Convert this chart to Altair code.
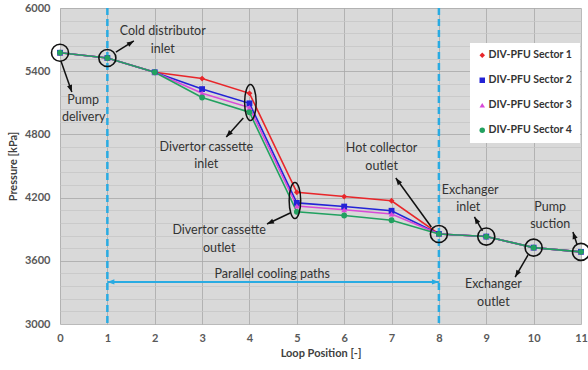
import math
import altair as alt
import pandas as pd

# ---------------- data ----------------
positions = [0, 1, 2, 3, 4, 5, 6, 7, 8, 9, 10, 11]
series_names = ["DIV-PFU Sector 1", "DIV-PFU Sector 2", "DIV-PFU Sector 3", "DIV-PFU Sector 4"]
sector1 = [5575, 5525, 5390, 5330, 5190, 4250, 4210, 4170, 3855, 3830, 3725, 3685]
sector2 = [5575, 5525, 5390, 5230, 5095, 4150, 4115, 4075, 3855, 3830, 3725, 3685]
sector3 = [5575, 5525, 5390, 5190, 5055, 4120, 4085, 4045, 3855, 3830, 3725, 3685]
sector4 = [5575, 5525, 5390, 5150, 5010, 4065, 4030, 3985, 3855, 3830, 3725, 3685]
series_colors = ["#e8262a", "#2323d6", "#d84ad8", "#22a160"]
series_shapes = ["diamond", "square", "triangle-up", "circle"]

x_ticks = list(range(0, 12))
y_grid = list(range(3000, 6001, 120))

# annotation circles / ellipses
circle_x = [0, 1, 8, 9, 10, 11]
circle_y = [5575, 5525, 3855, 3830, 3725, 3685]
ellipse_x = [4.02, 4.96]
ellipse_y = [5103, 4172]

# annotation labels
label_text = ["Pump", "delivery", "Cold distributor", "inlet",
              "Divertor cassette", "inlet", "Divertor cassette", "outlet",
              "Hot collector", "outlet", "Exchanger", "inlet",
              "Exchanger", "outlet", "Pump", "suction"]
label_x = [0.49, 0.5, 2.17, 2.17, 3.09, 3.09, 3.36, 3.36,
           6.79, 6.79, 8.66, 8.62, 9.15, 9.15, 10.35, 10.35]
label_y = [5127, 4965, 5782, 5611, 4680, 4519, 3892, 3721,
           4671, 4500, 4272, 4111, 3380, 3209, 4111, 3949]

# black arrows (tail -> head)
arrow_x0 = [0.02, 1.18, 3.87, 4.86, 7.84, 8.92, 9.88, 10.92]
arrow_y0 = [5497, 5582, 4956, 4054, 3921, 3883, 3655, 3750]
arrow_x1 = [0.25, 1.56, 3.51, 4.37, 7.09, 8.75, 9.61, 10.83]
arrow_y1 = [5202, 5687, 4775, 3949, 4386, 4016, 3446, 3873]

# parallel cooling paths
dashed_x = [1, 8]
cooling_x0, cooling_x1, cooling_y = 1, 8, 3399
cooling_label = "Parallel cooling paths"
cooling_label_x, cooling_label_y = 4.48, 3475

W, H = 521, 316
XD = [0, 11]
YD = [3000, 6000]
FONT = "Lato"
BLUE = "#29abe2"

# ---------------- frames ----------------
rows = []
for name, vals in zip(series_names, [sector1, sector2, sector3, sector4]):
    for p, v in zip(positions, vals):
        rows.append({"pos": p, "p": v, "series": name})
df = pd.DataFrame(rows)

def ang(x0, y0, x1, y1):
    dx = (x1 - x0) * W / (XD[1] - XD[0])
    dy = -(y1 - y0) * H / (YD[1] - YD[0])
    return math.degrees(math.atan2(dx, -dy)) % 360

arrows = pd.DataFrame({"x0": arrow_x0, "y0": arrow_y0, "x1": arrow_x1, "y1": arrow_y1})
arrows["angle"] = [ang(a, b, c, d) for a, b, c, d in zip(arrow_x0, arrow_y0, arrow_x1, arrow_y1)]

blue_heads = pd.DataFrame({"x": [cooling_x0, cooling_x1], "y": [cooling_y, cooling_y],
                           "angle": [ang(cooling_x1, cooling_y, cooling_x0, cooling_y),
                                     ang(cooling_x0, cooling_y, cooling_x1, cooling_y)]})

xs = alt.Scale(domain=XD, nice=False, zero=False)
ys = alt.Scale(domain=YD, nice=False, zero=False)

HEAD = "M0,0L-0.75,2L0.75,2Z"
ELLIPSE = "M0,-1A0.32,1,0,1,1,0,1A0.32,1,0,1,1,0,-1Z"

x_axis = alt.Axis(values=x_ticks, title="Loop Position [-]", labelFlush=False,
                  ticks=False, domain=False, grid=True, gridColor="#a8a8a8", gridWidth=0.8,
                  labelFontSize=11, labelFontWeight="bold", labelColor="#595959",
                  labelPadding=8, titleFontSize=11, titleFontWeight="bold",
                  titleColor="#404040", titlePadding=4)
y_axis = alt.Axis(values=y_grid, format="d", title="Pressure [kPa]",
                  labelExpr="datum.value % 600 == 0 ? datum.label : ''",
                  labelOverlap=False, labelFlush=False,
                  ticks=False, domain=False, grid=True,
                  gridColor={"condition": {"test": "datum.value % 600 == 0", "value": "#a8a8a8"},
                             "value": "#c6c6c6"},
                  gridWidth=0.8,
                  labelFontSize=11, labelFontWeight="bold", labelColor="#595959",
                  labelPadding=10, titleFontSize=11, titleFontWeight="bold",
                  titleColor="#404040", titlePadding=6)


def X(field):
    return alt.X(field, type="quantitative", scale=xs, axis=x_axis)


def Y(field):
    return alt.Y(field, type="quantitative", scale=ys, axis=y_axis)


legend = alt.Legend(title=None, orient="none", legendX=410, legendY=35,
                    fillColor="white", padding=7, rowPadding=14,
                    symbolSize=30, labelFontSize=10.5, labelFontWeight="bold",
                    labelColor="#333333", labelOffset=1, labelFont=FONT)

line_layers = [
    alt.Chart(df[df["series"] == name]).mark_line(strokeWidth=1.6, color=col).encode(
        x=X("pos"), y=Y("p"))
    for name, col in zip(series_names, series_colors)
]

points = alt.Chart(df).mark_point(filled=True, opacity=1, size=34).encode(
    x=X("pos"), y=Y("p"),
    color=alt.Color("series:N", scale=alt.Scale(domain=series_names, range=series_colors), legend=legend),
    shape=alt.Shape("series:N", scale=alt.Scale(domain=series_names, range=series_shapes), legend=legend),
)

dashed = alt.Chart(pd.DataFrame({"x": dashed_x})).mark_rule(
    color=BLUE, strokeWidth=2.5, strokeDash=[7, 4]).encode(x=X("x"))

cool_line = alt.Chart(pd.DataFrame({"x0": [cooling_x0], "x1": [cooling_x1], "y": [cooling_y]})).mark_rule(
    color=BLUE, strokeWidth=2).encode(x=X("x0"), x2="x1:Q", y=Y("y"))
cool_heads = alt.Chart(blue_heads).mark_point(shape=HEAD, filled=True, color=BLUE, size=49, opacity=1).encode(
    x=X("x"), y=Y("y"), angle=alt.Angle("angle:Q", scale=None))
cool_text = alt.Chart(pd.DataFrame({"x": [cooling_label_x], "y": [cooling_label_y], "t": [cooling_label]})).mark_text(
    font=FONT, fontSize=12.5, color="#333333").encode(x=X("x"), y=Y("y"), text="t:N")

arrow_lines = alt.Chart(arrows).mark_rule(color="#111111", strokeWidth=1.5).encode(
    x=X("x0"), y=Y("y0"), x2="x1:Q", y2="y1:Q")
arrow_heads = alt.Chart(arrows).mark_point(shape=HEAD, filled=True, color="#111111", size=49, opacity=1).encode(
    x=X("x1"), y=Y("y1"), angle=alt.Angle("angle:Q", scale=None))

circles = alt.Chart(pd.DataFrame({"x": circle_x, "y": circle_y})).mark_point(
    shape="circle", size=290, filled=False, color="#111111", strokeWidth=1.6, opacity=1).encode(
    x=X("x"), y=Y("y"))
ellipses = alt.Chart(pd.DataFrame({"x": ellipse_x, "y": ellipse_y})).mark_point(
    shape=ELLIPSE, size=1300, filled=False, color="#111111", strokeWidth=1.5, opacity=1).encode(
    x=X("x"), y=Y("y"))

labels = alt.Chart(pd.DataFrame({"x": label_x, "y": label_y, "t": label_text})).mark_text(
    font=FONT, fontSize=12.5, color="#333333").encode(x=X("x"), y=Y("y"), text="t:N")

chart = alt.layer(
    dashed, cool_line, cool_heads, cool_text,
    *line_layers, points,
    circles, ellipses, arrow_lines, arrow_heads, labels,
).properties(
    width=W, height=H,
    autosize=alt.AutoSizeParams(type="none"),
    padding={"left": 60, "top": 8, "right": 7, "bottom": 46},
    background="white",
).configure(
    font=FONT
).configure_view(
    fill="#d9d9d9", stroke=None
)

chart.save("out.html", embed_options={"renderer": "svg", "actions": False})
